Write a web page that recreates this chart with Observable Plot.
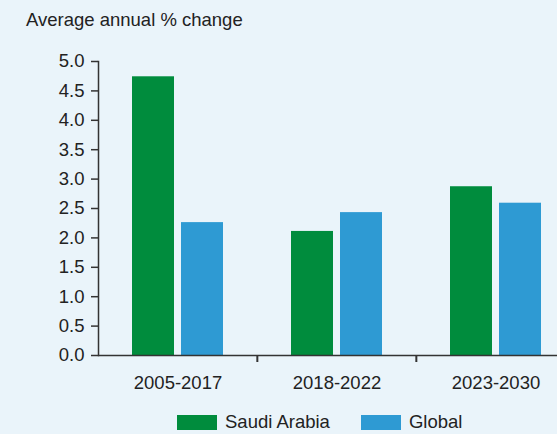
<!DOCTYPE html>
<html>
<head>
<meta charset="utf-8">
<script src="https://cdn.jsdelivr.net/npm/d3@7"></script>
<script src="https://cdn.jsdelivr.net/npm/@observablehq/plot@0.6"></script>
<style>
  html, body { margin: 0; padding: 0; background: #EAF4FA; }
  #wrap { position: relative; width: 557px; height: 434px; overflow: hidden; background: #EAF4FA;
          font-family: "Liberation Sans", Arial, Helvetica, sans-serif; color: #222; }
  #title { position: absolute; left: 26px; top: 11px; font-size: 18.5px; line-height: 18px; white-space: nowrap; }
  #chart { position: absolute; left: 0; top: 0; }
  #legend { position: absolute; left: 177px; top: 413px; display: flex; align-items: center; font-size: 18.5px; line-height: 18px; }
  .item { display: flex; align-items: center; margin-right: 31px; }
  .sw { width: 40px; height: 15px; margin-right: 8px; }
</style>
</head>
<body>
<div id="wrap">
  <div id="chart"></div>
  <div id="title">Average annual % change</div>
  <div id="legend"></div>
</div>
<script>
const periods = ["2005-2017", "2018-2022", "2023-2030"];
const seriesNames = ["Saudi Arabia", "Global"];
const saudiArabia = [4.74, 2.11, 2.87];
const globalValues = [2.26, 2.43, 2.59];
const yTicks = [0, 0.5, 1.0, 1.5, 2.0, 2.5, 3.0, 3.5, 4.0, 4.5, 5.0];
const colors = ["#008C3D", "#2E9AD3"];

const data = [];
periods.forEach((p, i) => {
  data.push({period: p, series: seriesNames[0], value: saudiArabia[i]});
  data.push({period: p, series: seriesNames[1], value: globalValues[i]});
});

const W = 557, H = 400, mL = 97, fxEnd = 575;
const step = (fxEnd - mL) / periods.length;

const chart = Plot.plot({
  width: W,
  height: H,
  marginLeft: mL,
  marginRight: 0,
  marginTop: 61,
  marginBottom: 45,
  style: {background: "transparent", fontSize: "18.5px", fontFamily: "'Liberation Sans', Arial, Helvetica, sans-serif", color: "#222", overflow: "visible"},
  fx: {domain: periods, range: [mL, fxEnd], padding: 0},
  x: {domain: seriesNames, paddingInner: 0.143, paddingOuter: 0.68, axis: null},
  y: {domain: [0, 5]},
  color: {domain: seriesNames, range: colors},
  marks: [
    Plot.barY(data, {fx: "period", x: "series", y: "value", fill: "series"}),
    Plot.ruleY([0], {stroke: "#333", strokeWidth: 1.5}),
    Plot.frame({anchor: "left", facet: "super", stroke: "#333", strokeWidth: 1.5}),
    Plot.axisY({ticks: yTicks, tickFormat: d3.format(".1f"), tickSize: 7, tickPadding: 7, stroke: "#333", strokeWidth: 1.5, label: null, fill: "#222"}),
    Plot.axisFx({anchor: "bottom", tickSize: 0, tickPadding: 20, label: null, fill: "#222"}),
    Plot.axisFx({anchor: "bottom", ticks: periods.slice(1), tickSize: 7, tickFormat: () => "", label: null, dx: -step / 2, stroke: "#333", strokeWidth: 2})
  ]
});
document.getElementById("chart").appendChild(chart);

const legend = document.getElementById("legend");
seriesNames.forEach((s, i) => {
  const item = document.createElement("div");
  item.className = "item";
  const sw = document.createElement("div");
  sw.className = "sw";
  sw.style.background = colors[i];
  const t = document.createElement("span");
  t.textContent = s;
  item.appendChild(sw);
  item.appendChild(t);
  legend.appendChild(item);
});
</script>
</body>
</html>
